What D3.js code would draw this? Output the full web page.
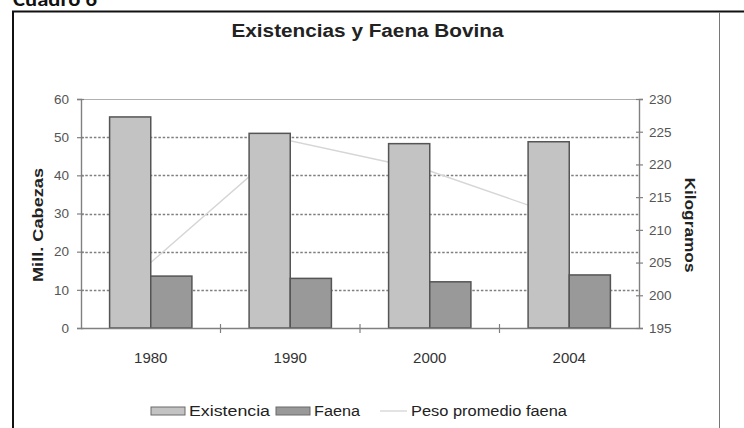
<!DOCTYPE html>
<html>
<head>
<meta charset="utf-8">
<script src="https://cdn.jsdelivr.net/npm/d3@7/dist/d3.min.js"></script>
<style>
  html, body { margin: 0; padding: 0; background: #fff; }
  svg { display: block; }
</style>
</head>
<body>
<svg id="chart" width="744" height="428"></svg>
<script>
// Cattle stock, slaughter (million head) and average slaughter weight (kg)
const years = ["1980", "1990", "2000", "2004"];
const existencia = [55.3, 51.0, 48.3, 48.8];
const faena = [13.6, 13.0, 12.1, 13.9];
const pesoPromedio = [205.0, 223.6, 219.0, 211.6];
const leftTicks = [0, 10, 20, 30, 40, 50, 60];
const rightTicks = [195, 200, 205, 210, 215, 220, 225, 230];
const seriesNames = ["Existencia", "Faena", "Peso promedio faena"];

const svg = d3.select("#chart");
const font = "'Liberation Sans', Arial, sans-serif";

const plot = { left: 81, right: 639, top: 99, bottom: 328 };

const x = d3.scaleBand().domain(years).range([plot.left, plot.right]).padding(0);
const groupW = x.bandwidth() * 0.59;
const xs = d3.scaleBand().domain(["Existencia", "Faena"])
  .range([(x.bandwidth() - groupW) / 2, (x.bandwidth() + groupW) / 2]).padding(0);
const yL = d3.scaleLinear().domain([0, 60]).range([plot.bottom, plot.top]);
const yR = d3.scaleLinear().domain([195, 230]).range([plot.bottom, plot.top]);

// Page heading and frame
svg.append("text").attr("x", 13).attr("y", 6)
  .attr("font-family", "Carlito, Calibri, 'Liberation Sans', sans-serif")
  .attr("font-weight", "bold").attr("font-size", 20).attr("fill", "#111")
  .attr("textLength", 84).attr("lengthAdjust", "spacingAndGlyphs")
  .text("Cuadro 6");
svg.append("line").attr("x1", 12).attr("x2", 744).attr("y1", 11.5).attr("y2", 11.5)
  .attr("stroke", "#111").attr("stroke-width", 2);
svg.append("line").attr("x1", 13).attr("x2", 13).attr("y1", 11).attr("y2", 428)
  .attr("stroke", "#111").attr("stroke-width", 2);
svg.append("line").attr("x1", 719.5).attr("x2", 719.5).attr("y1", 12).attr("y2", 428)
  .attr("stroke", "#777").attr("stroke-width", 1);

// Title
svg.append("text").attr("x", 367.5).attr("y", 37).attr("text-anchor", "middle")
  .attr("font-family", font).attr("font-weight", "bold").attr("font-size", 18)
  .attr("textLength", 272).attr("lengthAdjust", "spacingAndGlyphs")
  .attr("fill", "#222").text("Existencias y Faena Bovina");

// Gridlines
svg.append("g").selectAll("line").data(leftTicks.filter(d => d > 0 && d < 60)).join("line")
  .attr("x1", plot.left).attr("x2", plot.right)
  .attr("y1", d => Math.round(yL(d)) + 0.5).attr("y2", d => Math.round(yL(d)) + 0.5)
  .attr("stroke", "#808080").attr("stroke-width", 1.5).attr("stroke-dasharray", "2.5,1.8");

// Plot frame top
svg.append("line").attr("x1", plot.left).attr("x2", plot.right)
  .attr("y1", plot.top + 0.5).attr("y2", plot.top + 0.5)
  .attr("stroke", "#b0b0b0").attr("stroke-width", 1);

// Weight line (drawn under the bars)
const line = d3.line().x((d, i) => x(years[i]) + x.bandwidth() / 2).y(d => yR(d));
svg.append("path").datum(pesoPromedio).attr("d", line)
  .attr("fill", "none").attr("stroke", "#d6d6d6").attr("stroke-width", 1.4);

// Bars
const fills = { Existencia: "#c3c3c3", Faena: "#999999" };
const groups = svg.append("g").selectAll("g").data(years).join("g")
  .attr("transform", d => `translate(${x(d)},0)`);
groups.selectAll("rect")
  .data((d, i) => [{ k: "Existencia", v: existencia[i] }, { k: "Faena", v: faena[i] }])
  .join("rect")
  .attr("x", d => xs(d.k)).attr("width", xs.bandwidth())
  .attr("y", d => yL(d.v)).attr("height", d => yL(0) - yL(d.v))
  .attr("fill", d => fills[d.k]).attr("stroke", "#555").attr("stroke-width", 1.5);

// Axes
const axisColor = "#808080";
const gL = svg.append("g").attr("transform", `translate(${plot.left},0)`)
  .call(d3.axisLeft(yL).tickValues(leftTicks).tickSize(4).tickPadding(8));
const gR = svg.append("g").attr("transform", `translate(${plot.right},0)`)
  .call(d3.axisRight(yR).tickValues(rightTicks).tickSize(4).tickPadding(6));
const gB = svg.append("g").attr("transform", `translate(0,${plot.bottom})`)
  .call(d3.axisBottom(x).tickSize(0).tickPadding(24));
// category separators
gB.selectAll(".sep").data(years.slice(1)).join("line").attr("class", "sep")
  .attr("x1", d => x(d)).attr("x2", d => x(d)).attr("y1", -4).attr("y2", 5)
  .attr("stroke", axisColor).attr("stroke-width", 1.2);

[gL, gR, gB].forEach(g => {
  g.select(".domain").attr("stroke", axisColor).attr("stroke-width", 1.4);
  g.selectAll(".tick line").attr("stroke", axisColor).attr("stroke-width", 1.2);
  g.selectAll("text").attr("font-family", font).attr("font-size", 13.5).attr("fill", "#555");
});
gL.selectAll(".tick line").attr("x2", -4).attr("x1", 3);
gR.selectAll(".tick line").attr("x1", -3).attr("x2", 4);
gB.selectAll("text").attr("fill", "#333").attr("font-size", 15);
gB.select(".domain").attr("d", `M${plot.left},0.5H${plot.right}`);

// Axis titles
svg.append("text").attr("transform", "translate(43,225) rotate(-90)")
  .attr("text-anchor", "middle").attr("font-family", font).attr("font-weight", "bold")
  .attr("font-size", 14).attr("textLength", 114).attr("lengthAdjust", "spacingAndGlyphs")
  .attr("fill", "#222").text("Mill. Cabezas");
svg.append("text").attr("transform", "translate(685,225) rotate(90)")
  .attr("text-anchor", "middle").attr("font-family", font).attr("font-weight", "bold")
  .attr("font-size", 14).attr("textLength", 95).attr("lengthAdjust", "spacingAndGlyphs")
  .attr("fill", "#222").text("Kilogramos");

// Legend
const legend = svg.append("g").attr("font-family", font).attr("font-size", 14).attr("fill", "#222");
const legendItems = [
  { name: seriesNames[0], type: "rect", fill: fills.Existencia, x: 151, w: 34, tw: 81 },
  { name: seriesNames[1], type: "rect", fill: fills.Faena, x: 276, w: 34, tw: 46 },
  { name: seriesNames[2], type: "line", x: 380, w: 27, tw: 156 }
];
legendItems.forEach(it => {
  if (it.type === "rect") {
    legend.append("rect").attr("x", it.x).attr("y", 407).attr("width", it.w).attr("height", 8)
      .attr("fill", it.fill).attr("stroke", "#6a6a6a").attr("stroke-width", 1);
  } else {
    legend.append("line").attr("x1", it.x).attr("x2", it.x + it.w).attr("y1", 411).attr("y2", 411)
      .attr("stroke", "#d4d4d4").attr("stroke-width", 1.3);
  }
  legend.append("text").attr("x", it.x + it.w + 4).attr("y", 416)
    .attr("textLength", it.tw).attr("lengthAdjust", "spacingAndGlyphs").text(it.name);
});
</script>
</body>
</html>
